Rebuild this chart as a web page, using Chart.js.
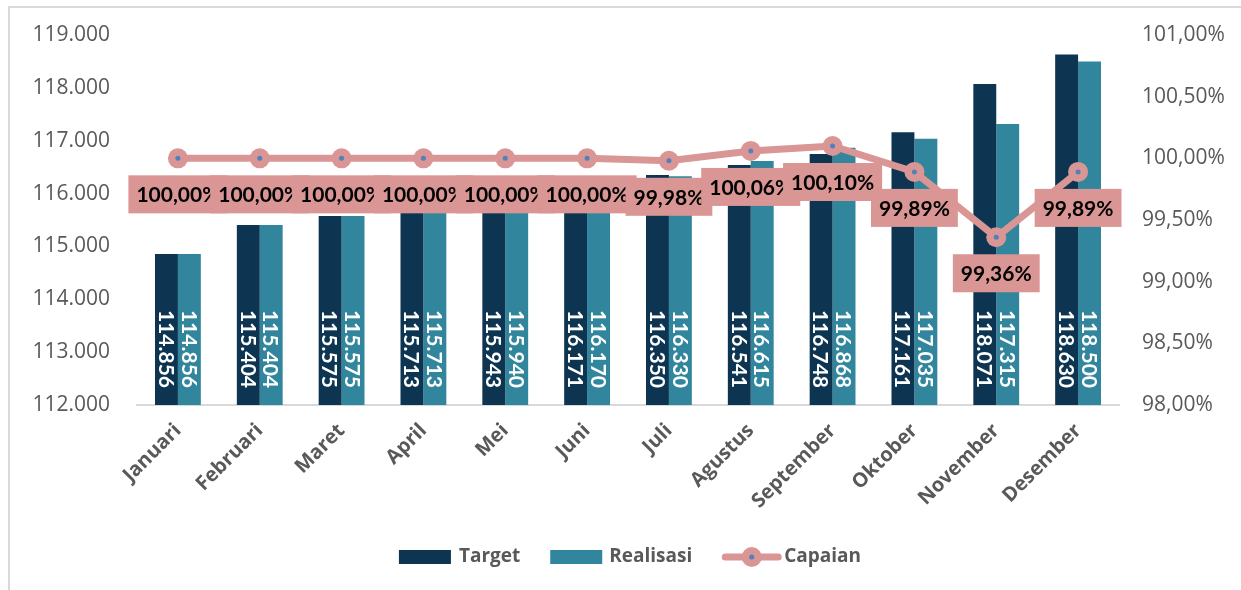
<!DOCTYPE html>
<html>
<head>
<meta charset="utf-8">
<script src="https://cdn.jsdelivr.net/npm/chart.js@4.4.0/dist/chart.umd.min.js"></script>
<style>
  html, body { margin: 0; padding: 0; background: #fff; }
  #wrap { position: relative; width: 1241px; height: 590px; }
</style>
</head>
<body>
<div id="wrap"><canvas id="chartCapaian"></canvas></div>
<script>
// data bulanan
const bulan = ['Januari', 'Februari', 'Maret', 'April', 'Mei', 'Juni', 'Juli', 'Agustus', 'September', 'Oktober', 'November', 'Desember'];
const target = [114856, 115404, 115575, 115713, 115943, 116171, 116350, 116541, 116748, 117161, 118071, 118630];
const realisasi = [114856, 115404, 115575, 115713, 115940, 116170, 116330, 116615, 116868, 117035, 117315, 118500];
const capaian = [100.00, 100.00, 100.00, 100.00, 100.00, 100.00, 99.98, 100.06, 100.10, 99.89, 99.36, 99.89];

const warnaTarget = '#0D3552';
const warnaRealisasi = '#31859C';
const warnaCapaian = '#D99694';
const warnaTitik = '#4F81BD';
const warnaTeks = '#595959';

Chart.defaults.font.family = "'Open Sans', sans-serif";

function formatAngka(n) {
  return String(n).replace(/\B(?=(\d{3})+(?!\d))/g, '.');
}
function formatPersen(v) {
  return v.toFixed(2).replace('.', ',') + '%';
}

// bingkai luar
const bingkai = {
  id: 'bingkai',
  beforeDraw(chart) {
    const ctx = chart.ctx;
    ctx.save();
    ctx.fillStyle = '#fff';
    ctx.fillRect(0, 0, chart.width, chart.height);
    ctx.strokeStyle = '#D9D9D9';
    ctx.lineWidth = 2;
    ctx.beginPath();
    ctx.moveTo(9, chart.height);
    ctx.lineTo(9, 7);
    ctx.lineTo(chart.width, 7);
    ctx.stroke();
    ctx.restore();
  }
};

// label nilai batang dan capaian
const labelData = {
  id: 'labelData',
  afterDatasetsDraw(chart) {
    const ctx = chart.ctx;
    const dasar = chart.chartArea.bottom;
    [0, 1].forEach(i => {
      const meta = chart.getDatasetMeta(i);
      meta.data.forEach((bar, j) => {
        ctx.save();
        ctx.translate(bar.x, dasar - 17);
        ctx.rotate(Math.PI / 2);
        ctx.textAlign = 'right';
        ctx.textBaseline = 'middle';
        ctx.fillStyle = '#fff';
        ctx.font = 'bold 21px Lato';
        ctx.fillText(formatAngka(chart.data.datasets[i].data[j]), 0, 1);
        ctx.restore();
      });
    });

    const metaLine = chart.getDatasetMeta(2);
    ctx.save();
    ctx.fillStyle = warnaTitik;
    metaLine.data.forEach(pt => {
      ctx.beginPath();
      ctx.arc(pt.x, pt.y, 2.5, 0, Math.PI * 2);
      ctx.fill();
    });
    ctx.font = 'bold 21px Lato';
    ctx.textAlign = 'center';
    ctx.textBaseline = 'middle';
    metaLine.data.forEach((pt, j) => {
      const teks = formatPersen(capaian[j]);
      const w = ctx.measureText(teks).width + 16;
      const cy = pt.y + 36;
      ctx.fillStyle = warnaCapaian;
      ctx.fillRect(pt.x - w / 2, cy - 19, w, 38);
      ctx.fillStyle = '#000';
      ctx.fillText(teks, pt.x, cy + 1);
    });
    ctx.restore();
  }
};

// legenda di bawah
const legenda = {
  id: 'legenda',
  afterDraw(chart) {
    const ctx = chart.ctx;
    const area = chart.chartArea;
    ctx.save();
    ctx.font = 'bold 19px "Open Sans"';
    ctx.textBaseline = 'middle';
    ctx.fillStyle = warnaTeks;
    const y = 557;
    const item = [
      { teks: 'Target', tipe: 'kotak', warna: warnaTarget, lebar: 52, jarak: 8 },
      { teks: 'Realisasi', tipe: 'kotak', warna: warnaRealisasi, lebar: 52, jarak: 7 },
      { teks: 'Capaian', tipe: 'garis', warna: warnaCapaian, lebar: 59, jarak: 3 }
    ];
    const sela = 30;
    let total = 0;
    item.forEach((it, k) => {
      it.tw = ctx.measureText(it.teks).width;
      total += it.lebar + it.jarak + it.tw + (k < item.length - 1 ? sela : 0);
    });
    let x = (area.left + area.right) / 2 - total / 2 + 2;
    item.forEach(it => {
      if (it.tipe === 'kotak') {
        ctx.fillStyle = it.warna;
        ctx.fillRect(x, y - 7, it.lebar, 14);
      } else {
        ctx.strokeStyle = it.warna;
        ctx.lineWidth = 7;
        ctx.lineCap = 'round';
        ctx.beginPath();
        ctx.moveTo(x + 3, y);
        ctx.lineTo(x + it.lebar - 3, y);
        ctx.stroke();
        ctx.fillStyle = it.warna;
        ctx.beginPath();
        ctx.arc(x + it.lebar / 2, y, 10, 0, Math.PI * 2);
        ctx.fill();
        ctx.fillStyle = warnaTitik;
        ctx.beginPath();
        ctx.arc(x + it.lebar / 2, y, 2.5, 0, Math.PI * 2);
        ctx.fill();
      }
      ctx.fillStyle = warnaTeks;
      ctx.fillText(it.teks, x + it.lebar + it.jarak, y);
      x += it.lebar + it.jarak + it.tw + sela;
    });
    ctx.restore();
  }
};

// lebar sumbu tetap, tanpa padding atas/bawah tambahan
function aturSumbuY(lebar) {
  return s => {
    s.width = lebar;
    s.paddingTop = 0;
    s.paddingBottom = 0;
  };
}

const ctx = document.getElementById('chartCapaian').getContext('2d');
new Chart(ctx, {
  type: 'bar',
  data: {
    labels: bulan,
    datasets: [
      {
        label: 'Target',
        data: target,
        backgroundColor: warnaTarget,
        categoryPercentage: 0.56,
        barPercentage: 1,
        yAxisID: 'y',
        order: 2
      },
      {
        label: 'Realisasi',
        data: realisasi,
        backgroundColor: warnaRealisasi,
        categoryPercentage: 0.56,
        barPercentage: 1,
        yAxisID: 'y',
        order: 2
      },
      {
        type: 'line',
        label: 'Capaian',
        data: capaian,
        borderColor: warnaCapaian,
        backgroundColor: warnaCapaian,
        borderWidth: 7,
        pointRadius: 10,
        pointBorderWidth: 0,
        pointBackgroundColor: warnaCapaian,
        tension: 0,
        yAxisID: 'y1',
        order: 0
      }
    ]
  },
  options: {
    responsive: true,
    maintainAspectRatio: false,
    animation: false,
    devicePixelRatio: 1,
    layout: { padding: { top: 35, left: 20, right: 0, bottom: 0 } },
    plugins: {
      legend: { display: false },
      tooltip: { enabled: false }
    },
    scales: {
      x: {
        grid: { display: false, drawTicks: false },
        border: { color: '#D9D9D9', width: 2 },
        ticks: {
          minRotation: 45,
          maxRotation: 45,
          color: warnaTeks,
          padding: 14,
          font: { size: 20, weight: 'bold' }
        },
        afterFit: s => { s.height = 185; }
      },
      y: {
        position: 'left',
        min: 112000,
        max: 119000,
        grid: { display: false, drawTicks: false },
        border: { display: false },
        ticks: {
          stepSize: 1000,
          padding: 27,
          color: warnaTeks,
          font: { size: 21 },
          callback: v => formatAngka(v)
        },
        afterFit: aturSumbuY(117)
      },
      y1: {
        position: 'right',
        min: 98,
        max: 101,
        grid: { display: false, drawTicks: false },
        border: { display: false },
        ticks: {
          stepSize: 0.5,
          padding: 23,
          color: warnaTeks,
          font: { size: 21 },
          callback: v => formatPersen(v)
        },
        afterFit: aturSumbuY(122)
      }
    }
  },
  plugins: [bingkai, labelData, legenda]
});
</script>
</body>
</html>
